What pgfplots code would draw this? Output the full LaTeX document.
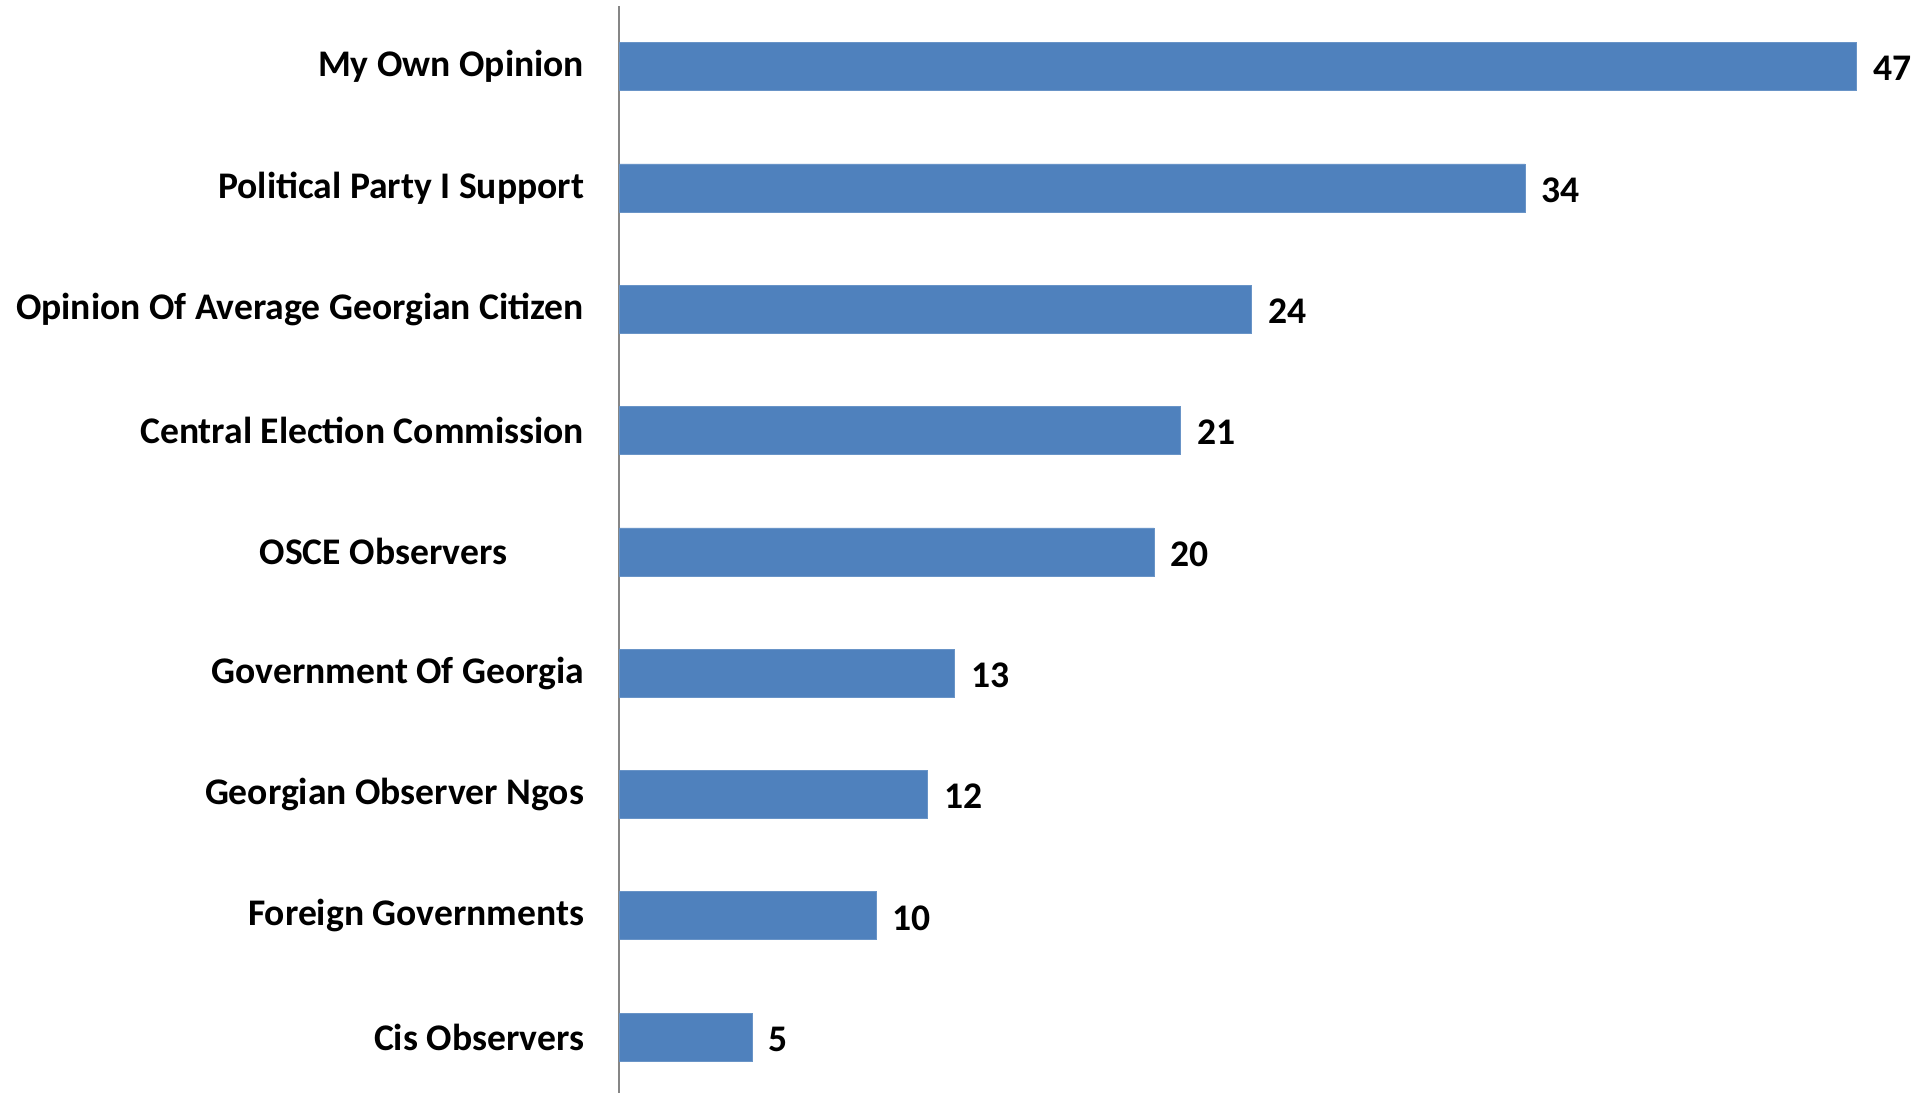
\documentclass[border=0pt]{standalone}
\usepackage{fontspec}
\setmainfont{Carlito}
\usepackage{pgfplots}
\pgfplotsset{compat=1.18}
\definecolor{barblue}{HTML}{4F81BD}
\definecolor{axisgray}{HTML}{868686}
\begin{document}
\begin{tikzpicture}
\useasboundingbox (0,0) rectangle (965.5pt,546.5pt);
\begin{axis}[
  at={(309.5pt,543.5pt)}, anchor=north west,
  scale only axis, width=656pt, height=543.5pt,
  xbar, bar width=24pt,
  xmin=0, xmax=50.08, ymin=-0.5, ymax=8.46, y dir=reverse,
  axis x line=none, axis y line*=left,
  y axis line style={draw=axisgray, line width=1pt},
  ytick={0,...,8},
  yticklabels={My Own Opinion, Political Party I Support, Opinion Of Average Georgian Citizen, Central Election Commission, OSCE Observers\rule{38.5pt}{0pt}, Government Of Georgia, Georgian Observer Ngos, Foreign Governments, Cis Observers},
  ytick style={draw=none},
  yticklabel style={font=\fontsize{18.8pt}{22pt}\selectfont\bfseries, anchor=east, inner sep=0pt, xshift=-13pt},
  point meta=explicit symbolic,
  nodes near coords,
  nodes near coords style={font=\fontsize{18.8pt}{22pt}\selectfont\bfseries, anchor=west, inner sep=0pt, xshift=8pt, yshift=-1pt},
  /pgf/number format/assume math mode=true,
  clip=false,
]
\addplot[fill=barblue, draw=barblue!85!white] coordinates {
  (47.25,0) [47]
  (34.59,1) [34]
  (24.15,2) [24]
  (21.44,3) [21]
  (20.43,4) [20]
  (12.81,5) [13]
  (11.78,6) [12]
  (9.82,7) [10]
  (5.09,8) [5]
};
\end{axis}
\end{tikzpicture}
\end{document}
